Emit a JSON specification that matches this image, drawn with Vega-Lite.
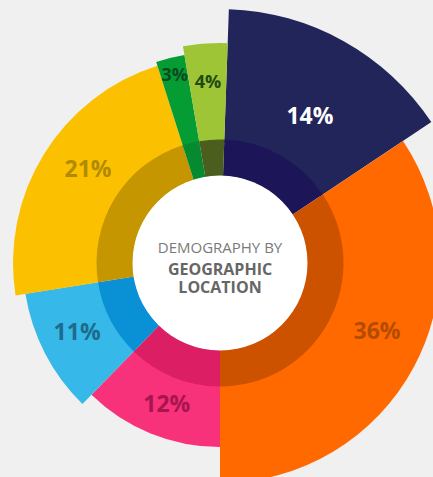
{
  "$schema": "https://vega.github.io/schema/vega-lite/v6.json",
  "autosize": "none",
  "width": 426,
  "height": 428,
  "padding": {"left": 7, "top": 49, "right": 0, "bottom": 0},
  "background": "#f0f0f0",
  "config": {"view": {"stroke": null}},
  "data": {"values": [
    {"i": 1, "segment": "S1", "angle": 54.3, "outer": 254, "label": "14%"},
    {"i": 2, "segment": "S2", "angle": 123.7, "outer": 220, "label": "36%"},
    {"i": 3, "segment": "S3", "angle": 44.3, "outer": 184, "label": "12%"},
    {"i": 4, "segment": "S4", "angle": 36.7, "outer": 197, "label": "11%"},
    {"i": 5, "segment": "S5", "angle": 81.4, "outer": 207, "label": "21%"},
    {"i": 6, "segment": "S6", "angle": 7.9, "outer": 211, "label": "3%"},
    {"i": 7, "segment": "S7", "angle": 11.7, "outer": 220, "label": "4%"}
  ]},
  "layer": [
    {
      "transform": [{"stack": "angle", "groupby": [], "sort": [{"field": "i", "order": "ascending"}], "as": ["a0", "a1"]}],
      "encoding": {
        "theta": {"field": "a0", "type": "quantitative", "scale": {"domain": [0, 360], "range": [0.0349, 6.3181]}},
        "theta2": {"field": "a1"}
      },
      "layer": [
        {
          "mark": {"type": "arc", "radius2": 120, "stroke": null},
          "encoding": {
            "radius": {"field": "outer", "type": "quantitative", "scale": {"type": "linear", "domain": [0, 260], "range": [0, 260]}},
            "color": {"field": "segment", "type": "nominal", "legend": null,
              "scale": {"domain": ["S1","S2","S3","S4","S5","S6","S7"],
                        "range": ["#212559","#ff6900","#f7327a","#36b9e8","#fbc100","#069c34","#9dc535"]}}
          }
        },
        {
          "mark": {"type": "arc", "radius": 123.5, "radius2": 87, "stroke": null},
          "encoding": {
            "fill": {"field": "segment", "type": "nominal", "legend": null,
              "scale": {"domain": ["S1","S2","S3","S4","S5","S6","S7"],
                        "range": ["#1c1658","#cc5200","#dc1e64","#0a91d5","#c59600","#058a30","#4b5e1e"]}}
          }
        }
      ]
    },
    {
      "data": {"values": [{}]},
      "mark": {"type": "arc", "radius": 87.5, "theta": 0, "theta2": 6.2832, "color": "#ffffff"},
      "encoding": {}
    },
    {
      "encoding": {
        "theta": {"field": "angle", "type": "quantitative", "stack": true, "scale": {"domain": [0, 360], "range": [0.0349, 6.3181]}},
        "order": {"field": "i", "type": "quantitative"},
        "detail": {"field": "segment", "type": "nominal"}
      },
      "layer": [
        {
          "mark": {"type": "text", "radius": 171.5, "thetaOffset": 0.043, "font": "Open Sans", "fontWeight": "bold", "fontSize": 23, "color": "#ffffff", "align": "center", "baseline": "middle"},
          "encoding": {"text": {"condition": {"test": "datum.segment === 'S1'", "field": "label", "type": "nominal"}, "value": ""}}
        },
        {
          "mark": {"type": "text", "radius": 171.5, "thetaOffset": -0.0777, "font": "Open Sans", "fontWeight": "bold", "fontSize": 23, "color": "#b44c00", "align": "center", "baseline": "middle"},
          "encoding": {"text": {"condition": {"test": "datum.segment === 'S2'", "field": "label", "type": "nominal"}, "value": ""}}
        },
        {
          "mark": {"type": "text", "radius": 152, "thetaOffset": -0.0288, "font": "Open Sans", "fontWeight": "bold", "fontSize": 23, "color": "#a8144f", "align": "center", "baseline": "middle"},
          "encoding": {"text": {"condition": {"test": "datum.segment === 'S3'", "field": "label", "type": "nominal"}, "value": ""}}
        },
        {
          "mark": {"type": "text", "radius": 159, "thetaOffset": 0.0236, "font": "Open Sans", "fontWeight": "bold", "fontSize": 23, "color": "#1e6b8c", "align": "center", "baseline": "middle"},
          "encoding": {"text": {"condition": {"test": "datum.segment === 'S4'", "field": "label", "type": "nominal"}, "value": ""}}
        },
        {
          "mark": {"type": "text", "radius": 161.5, "thetaOffset": 0.0611, "font": "Open Sans", "fontWeight": "bold", "fontSize": 23, "color": "#b28a00", "align": "center", "baseline": "middle"},
          "encoding": {"text": {"condition": {"test": "datum.segment === 'S5'", "field": "label", "type": "nominal"}, "value": ""}}
        },
        {
          "mark": {"type": "text", "radius": 192, "thetaOffset": 0, "font": "Open Sans", "fontWeight": "bold", "fontSize": 18, "color": "#0c4b1e", "align": "center", "baseline": "middle"},
          "encoding": {"text": {"condition": {"test": "datum.segment === 'S6'", "field": "label", "type": "nominal"}, "value": ""}}
        },
        {
          "mark": {"type": "text", "radius": 180, "thetaOffset": 0, "font": "Open Sans", "fontWeight": "bold", "fontSize": 18, "color": "#1f4a14", "align": "center", "baseline": "middle"},
          "encoding": {"text": {"condition": {"test": "datum.segment === 'S7'", "field": "label", "type": "nominal"}, "value": ""}}
        }
      ]
    },
    {
      "data": {"values": [{"t": "DEMOGRAPHY BY"}]},
      "mark": {"type": "text", "font": "Open Sans", "fontSize": 15, "color": "#7a7a7a", "align": "center", "baseline": "middle", "dy": -15},
      "encoding": {"text": {"field": "t", "type": "nominal"}}
    },
    {
      "data": {"values": [{"t": ["GEOGRAPHIC", "LOCATION"]}]},
      "mark": {"type": "text", "font": "Open Sans", "fontSize": 16, "fontWeight": "bold", "color": "#666666", "align": "center", "baseline": "middle", "lineHeight": 18, "dy": 7},
      "encoding": {"text": {"field": "t", "type": "nominal"}}
    }
  ]
}
